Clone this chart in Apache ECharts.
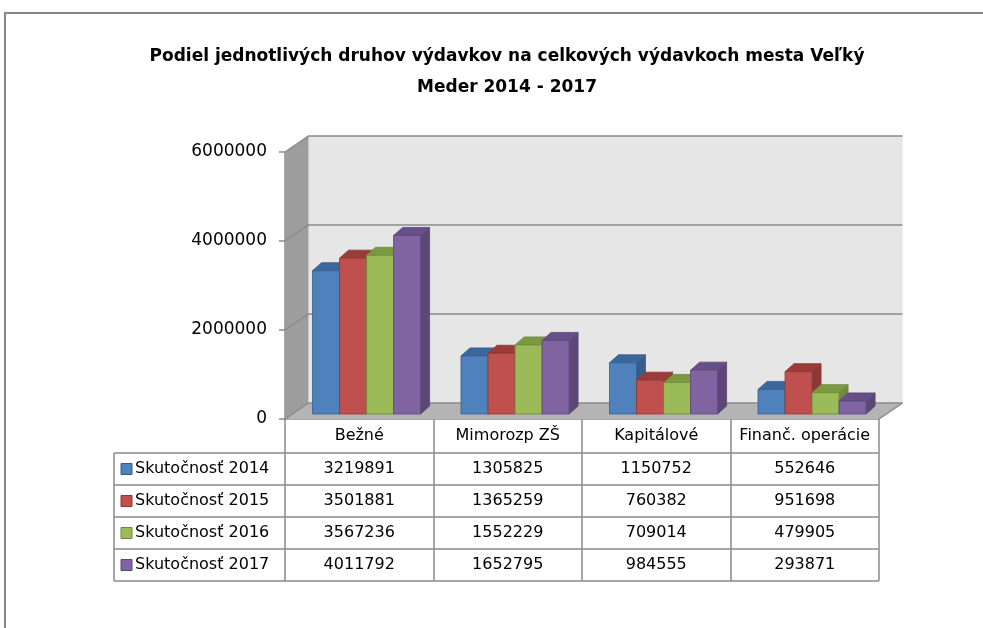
<!DOCTYPE html>
<html>
<head>
<meta charset="utf-8">
<script src="https://cdn.jsdelivr.net/npm/echarts@6/dist/echarts.min.js"></script>
<style>
  html, body { margin: 0; padding: 0; background: #fff; }
  #chart { width: 983px; height: 628px; }
</style>
</head>
<body>
<div id="chart"></div>
<script>
// data
const categories = ['Bežné', 'Mimorozp ZŠ', 'Kapitálové', 'Finanč. operácie']
const seriesNames = ['Skutočnosť 2014', 'Skutočnosť 2015', 'Skutočnosť 2016', 'Skutočnosť 2017']
const values2014 = [3219891, 1305825, 1150752, 552646]
const values2015 = [3501881, 1365259, 760382, 951698]
const values2016 = [3567236, 1552229, 709014, 479905]
const values2017 = [4011792, 1652795, 984555, 293871]
const yTicks = [0, 2000000, 4000000, 6000000]

const allValues = [values2014, values2015, values2016, values2017]

// colours: front, top, side
const colors = [
  ['#4f81bd', '#3c679c', '#385d8a'],
  ['#c0504d', '#9b3c39', '#8c3836'],
  ['#9bbb59', '#7b9a40', '#71893f'],
  ['#8064a2', '#67508a', '#5c4776']
]

// 3d look
const DX = 23.5, DY = -16        // wall depth
const BAR_OX = 7.3, BAR_OY = -5  // bars sit a bit back from the front
const BD_X = 9, BD_Y = -8        // bar depth
const FONT = 'DejaVu Sans'

const chart = echarts.init(document.getElementById('chart'))

const wallsRender = (params, api) => {
  const cs = params.coordSys
  const l = cs.x, r = cs.x + cs.width, t = cs.y, b = cs.y + cs.height
  const children = [
    { type: 'rect', shape: { x: l + DX, y: t + DY, width: cs.width, height: cs.height }, style: { fill: '#e6e6e6' } },
    { type: 'polygon', shape: { points: [[l, b], [l, t], [l + DX, t + DY], [l + DX, b + DY]] }, style: { fill: '#9d9d9d' } },
    { type: 'polygon', shape: { points: [[l, b], [r, b], [r + DX, b + DY], [l + DX, b + DY]] }, style: { fill: '#b4b4b4' } },
    { type: 'line', shape: { x1: r, y1: b, x2: r + DX, y2: b + DY }, style: { stroke: '#8a8a8a', lineWidth: 1.5 } }
  ]
  yTicks.forEach(v => {
    const y = api.coord([0, v])[1]
    children.push({
      type: 'polyline',
      shape: { points: [[l, y], [l + DX, y + DY], [r + DX, y + DY]] },
      style: { stroke: '#8a8a8a', lineWidth: 1.5, fill: null }
    })
  })
  return { type: 'group', children }
}

const barRender = si => (params, api) => {
  const ci = api.value(0)
  const v = api.value(1)
  const base = api.coord([ci, 0])
  const top = api.coord([ci, v])
  const band = api.size([1, 0])[0]
  const bw = band * 0.182
  const x = base[0] - 2 * bw + si * bw + BAR_OX
  const yb = base[1] + BAR_OY
  const yt = top[1] + BAR_OY
  const c = colors[si]
  return {
    type: 'group',
    children: [
      { type: 'polygon', shape: { points: [[x + bw, yt], [x + bw + BD_X, yt + BD_Y], [x + bw + BD_X, yb + BD_Y], [x + bw, yb]] },
        style: { fill: c[2], stroke: c[2], lineWidth: 0.8 } },
      { type: 'polygon', shape: { points: [[x, yt], [x + BD_X, yt + BD_Y], [x + bw + BD_X, yt + BD_Y], [x + bw, yt]] },
        style: { fill: c[1], stroke: c[2], lineWidth: 0.8 } },
      { type: 'rect', shape: { x, y: yt, width: bw, height: yb - yt },
        style: { fill: c[0], stroke: c[2], lineWidth: 0.8 } }
    ]
  }
}

const series = [{
  type: 'custom',
  renderItem: wallsRender,
  data: [[0, 0]],
  encode: { x: 0, y: 1 },
  silent: true,
  z: 1
}]
allValues.forEach((vals, si) => {
  series.push({
    type: 'custom',
    name: seriesNames[si],
    renderItem: barRender(si),
    data: vals.map((v, i) => [i, v]),
    encode: { x: 0, y: 1 },
    z: 2
  })
})

const option = {
  animation: false,
  title: {
    text: 'Podiel jednotlivých druhov výdavkov na celkových výdavkoch mesta Veľký\nMeder 2014 - 2017',
    left: 502,
    top: 36,
    textAlign: 'center',
    textStyle: { fontFamily: FONT, fontSize: 17, fontWeight: 'bold', color: '#000', lineHeight: 31 }
  },
  grid: { left: 285, top: 152, width: 594, height: 267 },
  xAxis: {
    type: 'category',
    data: categories,
    axisLine: { show: true, lineStyle: { color: '#8a8a8a', width: 1.5 } },
    axisTick: { show: true, interval: 0, length: 162, lineStyle: { color: '#8a8a8a', width: 1.5 } },
    axisLabel: { interval: 0, fontFamily: FONT, fontSize: 16, color: '#000', margin: 9 }
  },
  yAxis: {
    type: 'value',
    min: 0,
    max: 6000000,
    interval: 2000000,
    axisLine: { show: true, lineStyle: { color: '#8a8a8a', width: 1.5 } },
    axisTick: { show: true, length: 6, lineStyle: { color: '#8a8a8a', width: 1.5 } },
    axisLabel: { fontFamily: FONT, fontSize: 17, color: '#000', margin: 18, formatter: v => String(v) },
    splitLine: { show: false }
  },
  series
}

chart.setOption(option)

// data table under the chart
const rowTop = 453, rowH = 32, tableLeft = 114
const tableRight = chart.convertToPixel({ xAxisIndex: 0 }, categories.length - 1) + (chart.convertToPixel({ xAxisIndex: 0 }, 1) - chart.convertToPixel({ xAxisIndex: 0 }, 0)) / 2
const graphic = [
  { type: 'rect', shape: { x: 5, y: 13, width: 1100, height: 700 }, style: { fill: null, stroke: '#868686', lineWidth: 2 }, z: 0 },
  { type: 'line', shape: { x1: tableLeft, y1: rowTop, x2: tableLeft, y2: rowTop + rowH * 4 }, style: { stroke: '#8a8a8a', lineWidth: 1.5 } }
]
for (let r = 0; r <= 4; r++) {
  const y = rowTop + r * rowH
  graphic.push({ type: 'line', shape: { x1: tableLeft, y1: y, x2: tableRight, y2: y }, style: { stroke: '#8a8a8a', lineWidth: 1.5 } })
}
allValues.forEach((vals, si) => {
  const cy = rowTop + si * rowH + rowH / 2
  graphic.push({ type: 'rect', shape: { x: 121, y: cy - 5.5, width: 11, height: 11 }, style: { fill: colors[si][0], stroke: colors[si][2], lineWidth: 1 } })
  graphic.push({ type: 'text', x: 135, y: cy, style: { text: seriesNames[si], font: '16px "DejaVu Sans"', fill: '#000', verticalAlign: 'middle', align: 'left' } })
  vals.forEach((v, ci) => {
    const cx = chart.convertToPixel({ xAxisIndex: 0 }, ci)
    graphic.push({ type: 'text', x: cx, y: cy, style: { text: String(v), font: '16px "DejaVu Sans"', fill: '#000', verticalAlign: 'middle', align: 'center' } })
  })
})
chart.setOption({ graphic })
</script>
</body>
</html>
